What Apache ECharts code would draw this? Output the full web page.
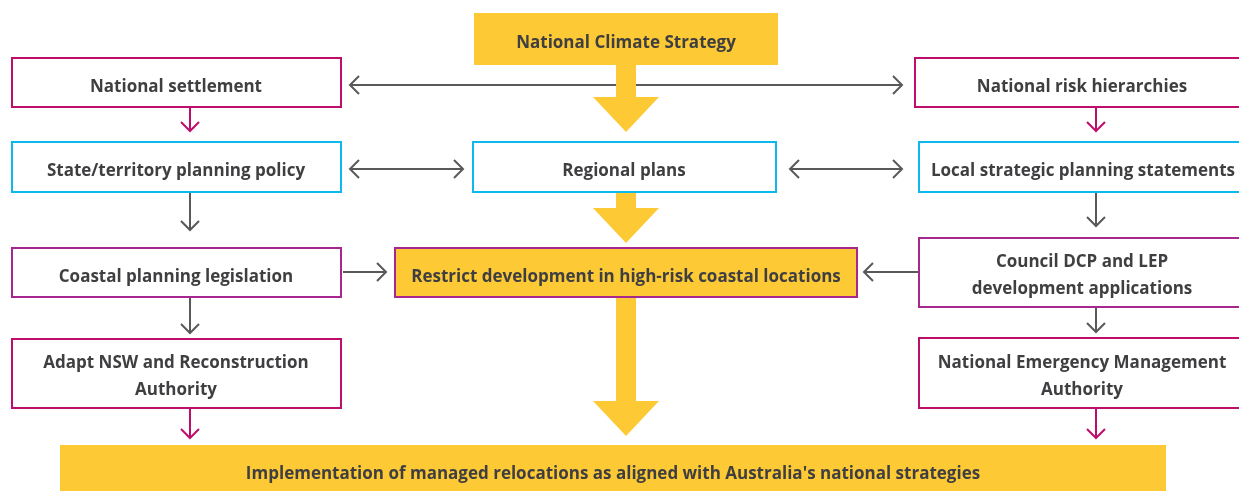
<!DOCTYPE html>
<html><head><meta charset="utf-8">
<script src="https://cdn.jsdelivr.net/npm/echarts@6/dist/echarts.min.js"></script>
<style>html,body{margin:0;padding:0;background:#fff}#c{width:1239px;height:491px}</style>
</head><body><div id="c"></div>
<script>
// ---- content ----
var nodeLabels = [
  'National Climate Strategy',
  'National settlement',
  'National risk hierarchies',
  'State/territory planning policy',
  'Regional plans',
  'Local strategic planning statements',
  'Coastal planning legislation',
  'Restrict development in high-risk coastal locations',
  'Council DCP and LEP\ndevelopment applications',
  'Adapt NSW and Reconstruction\nAuthority',
  'National Emergency Management\nAuthority',
  "Implementation of managed relocations as aligned with Australia's national strategies"
];
var nodeKinds = ['core','national','national','state','state','state','legal','core-outlined','legal','national','national','core'];

// links: [from, to, kind]
var linkPairs = [
  [1,2,'both'],[3,4,'both'],[4,5,'both'],
  [6,7,'one'],[8,7,'one'],
  [1,3,'one'],[2,5,'one'],[3,6,'one'],[5,8,'one'],[6,9,'one'],[8,10,'one'],[9,11,'one'],[10,11,'one'],
  [0,4,'big'],[4,7,'big'],[7,11,'big']
];

// ---- layout (pixel space of the axes) ----
var nodeBoxes = [
  [474,13,778,65],[11,57,342,108],[914,57,1250,108],
  [11,141,342,193],[472,141,777,193],[918,141,1250,193],
  [11,247,342,298],[394,247,858,298],[918,237,1250,308],
  [11,338,342,409],[918,337,1250,409],[60,445,1166,505]
];
var textCenters = [
  [626,43],[176,87],[1082,87],[176,171],[624,171],[1083,171],[176,277],[626,277],[1082,276],[176,377],[1082,377],[613,474]
];
// arrow geometry: [x0,y0,x1,y1]
var arrowGeom = [
  [350,85,902,85],[350,169,463,169],[790,169,902,169],
  [343,272,386,272],[918,272,864,272],
  [190,108,190,131],[1096,108,1096,131],[190,193,190,230],[1096,193,1096,226],[190,298,190,333],[1096,308,1096,332],[190,409,190,438],[1096,409,1096,438],
  [626,65,626,132],[626,193,626,243],[626,298,626,436]
];

var YELLOW = '#FDC935', MAG = '#BE0E6C', CYAN = '#0DB8EC', PURP = '#A6278E', GRAY = '#58595B', TEXT = '#3F3F41';
var kindStyle = {
  'core': {fill: YELLOW, stroke: null},
  'core-outlined': {fill: YELLOW, stroke: PURP},
  'national': {fill: '#fff', stroke: MAG},
  'state': {fill: '#fff', stroke: CYAN},
  'legal': {fill: '#fff', stroke: PURP}
};
var FONT = '"Open Sans"';

function linkColor(l){
  if (l[2]==='big') return YELLOW;
  if (nodeKinds[l[0]]==='national' && l[2]==='one') return MAG;
  return GRAY;
}

var chart = echarts.init(document.getElementById('c'), null, {renderer:'canvas'});

function chevron(api, x, y, dx, dy, color){
  var s = 9;
  var p = api.coord([x,y]);
  var a = [p[0]-dx*s - dy*s, p[1]-dy*s - dx*s];
  var b = [p[0]-dx*s + dy*s, p[1]-dy*s + dx*s];
  return {type:'polyline', shape:{points:[a,p,b]}, style:{stroke:color, lineWidth:2, fill:null}};
}

var option = {
  animation:false,
  grid:{left:0,right:0,top:0,bottom:0},
  xAxis:{type:'value',min:0,max:1239,show:false},
  yAxis:{type:'value',min:0,max:491,inverse:true,show:false},
  series:[
    {
      type:'custom', coordinateSystem:'cartesian2d', clip:true, z:1,
      data: linkPairs.map(function(l,i){ return [i]; }),
      renderItem:function(params, api){
        var i = api.value(0), l = linkPairs[i], g = arrowGeom[i], col = linkColor(l);
        var p0 = api.coord([g[0],g[1]]), p1 = api.coord([g[2],g[3]]);
        if (l[2]==='big'){
          var cx = p0[0], hw = 10, hh = 33, hl = 35;
          var tipY = p1[1];
          var pts = [[cx-hw,p0[1]],[cx+hw,p0[1]],[cx+hw,tipY-hl],[cx+hh,tipY-hl],[cx,tipY],[cx-hh,tipY-hl],[cx-hw,tipY-hl]];
          return {type:'polygon', shape:{points:pts}, style:{fill:col}};
        }
        var dx = Math.sign(g[2]-g[0]), dy = Math.sign(g[3]-g[1]);
        var children = [
          {type:'line', shape:{x1:p0[0],y1:p0[1],x2:p1[0],y2:p1[1]}, style:{stroke:col,lineWidth:2}},
          chevron(api, g[2], g[3], dx, dy, col)
        ];
        if (l[2]==='both') children.push(chevron(api, g[0], g[1], -dx, -dy, col));
        return {type:'group', children:children};
      }
    },
    {
      type:'custom', coordinateSystem:'cartesian2d', clip:true, z:2,
      data: nodeLabels.map(function(n,i){ return [i]; }),
      renderItem:function(params, api){
        var i = api.value(0), b = nodeBoxes[i], st = kindStyle[nodeKinds[i]];
        var a = api.coord([b[0],b[1]]), c = api.coord([b[2],b[3]]), t = api.coord(textCenters[i]);
        var sw = st.stroke ? 2 : 0;
        return {type:'group', children:[
          {type:'rect', shape:{x:a[0]+sw/2,y:a[1]+sw/2,width:c[0]-a[0]-sw,height:c[1]-a[1]-sw},
           style:{fill:st.fill, stroke:st.stroke||null, lineWidth:sw}},
          {type:'text', x:t[0], y:t[1], style:{text:nodeLabels[i], fill:TEXT, font:'bold 17px '+FONT,
            align:'center', verticalAlign:'middle', lineHeight:27}}
        ]};
      }
    }
  ]
};
chart.setOption(option);
</script></body></html>
